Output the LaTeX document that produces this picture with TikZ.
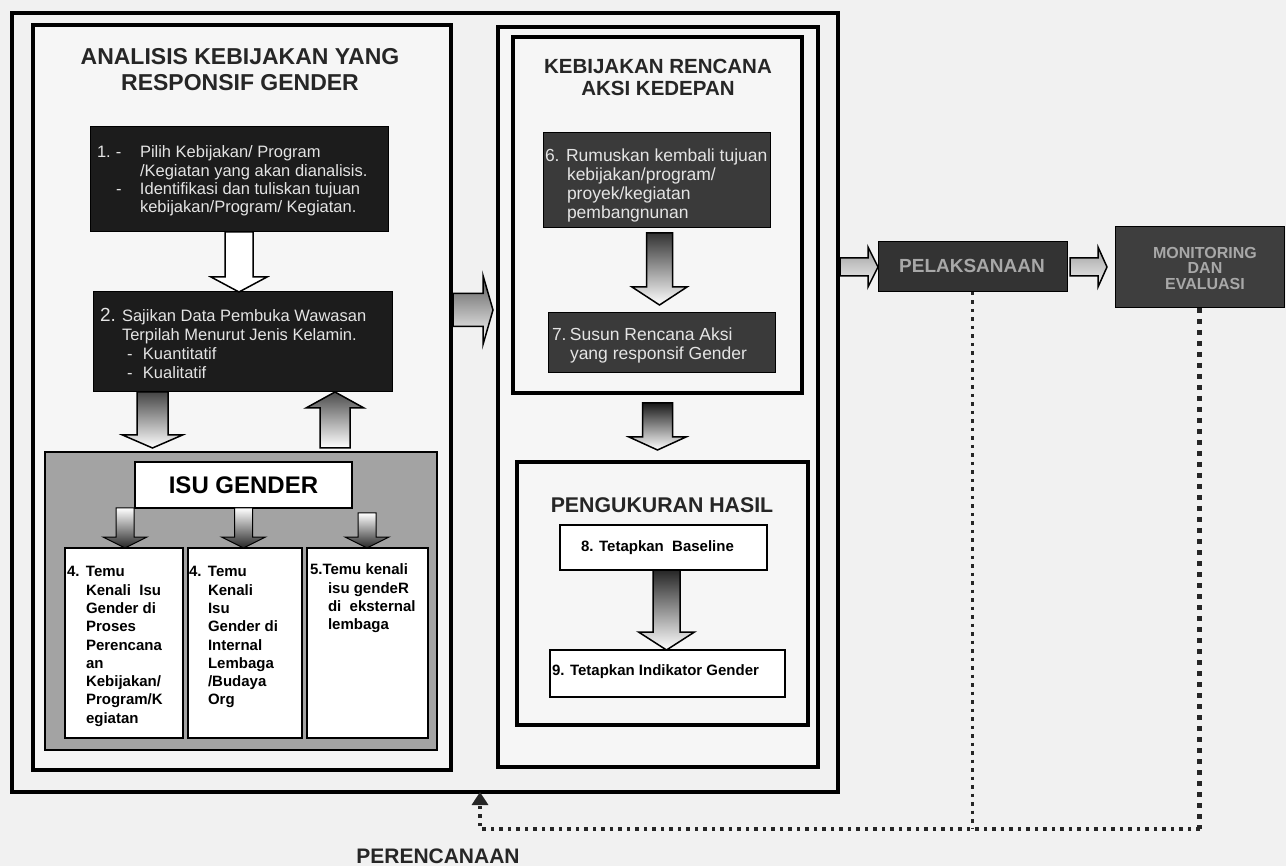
\documentclass[tikz,border=0pt]{standalone}
\usepackage{fontspec}
\setmainfont{Liberation Sans}
\usetikzlibrary{fit,calc,arrows.meta}

\definecolor{bg}{HTML}{F1F1F1}
\definecolor{panel}{HTML}{F6F6F6}
\definecolor{darkfill}{HTML}{1C1C1C}
\definecolor{midfill}{HTML}{3A3A3A}
\definecolor{isufill}{HTML}{A3A3A3}
\definecolor{boxtext}{HTML}{E4E4E4}
\definecolor{embtext}{HTML}{A8A8A8}

\newcommand\fs[2]{\fontsize{#1}{#2}\selectfont}
% block arrows: #1 style, #2 start, #3 end, #4 shaft half width, #5 head half width, #6 head length
\newcommand\blkDown[6]{\path[#1] let \p1=(#2), \p2=(#3) in (\x1-#4pt,\y1) -- (\x1+#4pt,\y1) -- (\x1+#4pt,\y2+#6pt) -- (\x1+#5pt,\y2+#6pt) -- (\x1,\y2) -- (\x1-#5pt,\y2+#6pt) -- (\x1-#4pt,\y2+#6pt) -- cycle;}
\newcommand\blkUp[6]{\path[#1] let \p1=(#2), \p2=(#3) in (\x1-#4pt,\y1) -- (\x1+#4pt,\y1) -- (\x1+#4pt,\y2-#6pt) -- (\x1+#5pt,\y2-#6pt) -- (\x1,\y2) -- (\x1-#5pt,\y2-#6pt) -- (\x1-#4pt,\y2-#6pt) -- cycle;}
\newcommand\blkRight[6]{\path[#1] let \p1=(#2), \p2=(#3) in (\x1,\y1+#4pt) -- (\x2-#6pt,\y1+#4pt) -- (\x2-#6pt,\y1+#5pt) -- (\x2,\y1) -- (\x2-#6pt,\y1-#5pt) -- (\x2-#6pt,\y1-#4pt) -- (\x1,\y1-#4pt) -- cycle;}

\begin{document}
\begin{tikzpicture}[x=1pt,y=-1pt,
  every node/.style={inner sep=0pt, outer sep=0pt},
  frm/.style={draw=black, line width=4pt},
  darkbox/.style={fill=darkfill, draw=black, line width=1pt},
  midbox/.style={fill=midfill, draw=black, line width=1pt},
  whitebox/.style={fill=white, draw=black, line width=2pt},
  title/.style={align=center, text=black!85, font={\fs{23}{26}\bfseries}},
  lighttext/.style={anchor=north west, text=boxtext},
  smallbold/.style={anchor=north west, text=black, font={\fs{15}{18.3}\bfseries}},
  emb/.style={text=embtext, font={\fs{19}{19}\bfseries}},
  arr/.style={draw=black, line width=1.5pt},
  dotline/.style={draw=black!85, line width=3.5pt, dash pattern=on 3.5pt off 5pt},
  dotthick/.style={draw=black!85, line width=5pt, dash pattern=on 5pt off 6pt}
]
\useasboundingbox (0,0) rectangle (1286,866);
\fill[bg] (0,0) rectangle (1286,866);

% frames and panels
\node[frm, fit={(12,13) (838,792)}] (fr) {};
\node[frm, fill=panel, fit={(33,25) (451,770)}] (lp) {};
\node[frm, fill=panel, fit={(498,27) (818,767)}] (mo) {};
\node[frm, fill=panel, fit={(513,37) (802,393)}] (mi) {};
\node[frm, fill=panel, fit={(517,462) (808,725)}] (pk) {};

% titles
\node[title] (tA) at (240,70) {ANALISIS KEBIJAKAN YANG\\RESPONSIF GENDER};
\node[title, font={\fs{20.5}{21.5}\bfseries}] (tB) at (658,77.5) {KEBIJAKAN RENCANA\\AKSI KEDEPAN};
\node[title, font={\fs{21.3}{22}\bfseries}] (tC) at (662,505) {PENGUKURAN HASIL};

% left column boxes
\node[darkbox, fit={(90,127) (388,232)}] (b1) {};
\node[lighttext, font={\fs{16.5}{18.3}}] (b1t) at (97,145) {\begin{tabular}{@{}p{19pt}@{}p{24pt}@{}l@{}}1.&-&Pilih Kebijakan/ Program\\&&/Kegiatan yang akan dianalisis.\\&-&Identifikasi dan tuliskan tujuan\\&&kebijakan/Program/ Kegiatan.\end{tabular}};

\node[darkbox, fit={(93,292) (392,392)}] (b2) {};
\node[lighttext, font={\fs{16.5}{19}}] (b2t) at (100,308) {\begin{tabular}{@{}p{22pt}@{}p{21pt}@{}l@{}}{\fs{19}{19}2.}&\multicolumn{2}{@{}l@{}}{Sajikan Data Pembuka Wawasan}\\&\multicolumn{2}{@{}l@{}}{Terpilah Menurut Jenis Kelamin.}\\&\hspace*{5pt}-&Kuantitatif\\&\hspace*{5pt}-&Kualitatif\end{tabular}};

\node[draw=black, line width=2pt, fill=isufill, fit={(45,452) (437,750)}] (gr) {};
\node[whitebox, fit={(135,462) (352,508)}] (isu) {};
\node[font={\fs{24}{24}\bfseries}] (isut) at (isu.center) {ISU GENDER};

\node[whitebox, fit={(65,548) (183,738)}] (bA) {};
\node[whitebox, fit={(188,548) (302,738)}] (bB) {};
\node[whitebox, fit={(307,548) (428,738)}] (bC) {};
\node[smallbold] (bAt) at (67,564) {\begin{tabular}{@{}p{19pt}@{}l@{}}4.&Temu\\&Kenali\ \ Isu\\&Gender di\\&Proses\\&Perencana\\&an\\&Kebijakan/\\&Program/K\\&egiatan\end{tabular}};
\node[smallbold] (bBt) at (189,564) {\begin{tabular}{@{}p{19pt}@{}l@{}}4.&Temu\\&Kenali\\&Isu\\&Gender di\\&Internal\\&Lembaga\\&/Budaya\\&Org\end{tabular}};
\node[smallbold] (bCt) at (310,562) {\begin{tabular}{@{}p{18pt}@{}l@{}}\multicolumn{2}{@{}l@{}}{5.Temu kenali}\\&isu gendeR\\&di\ \ eksternal\\&lembaga\end{tabular}};

% middle column boxes
\node[midbox, fit={(543,133) (770,228)}] (b6) {};
\node[lighttext, font={\fs{17.5}{19}}] (b6t) at (545,148) {\begin{tabular}{@{}p{22pt}@{}l@{}}\multicolumn{2}{@{}l@{}}{6. Rumuskan kembali tujuan}\\&kebijakan/program/\\&proyek/kegiatan\\&pembangnunan\end{tabular}};

\node[midbox, fit={(548,313) (775,373)}] (b7) {};
\node[lighttext, font={\fs{17.5}{18.5}}] (b7t) at (552,328) {\begin{tabular}{@{}p{18pt}@{}l@{}}7.&Susun Rencana Aksi\\&yang responsif Gender\end{tabular}};

\node[whitebox, fit={(560,525) (767,570)}] (b8) {};
\node[font={\fs{15}{15}\bfseries}] (b8t) at ($(b8.center)+(-6,0)$) {8. Tetapkan\ \ Baseline};
\node[whitebox, fit={(550,650) (785,697)}] (b9) {};
\node[anchor=west, font={\fs{15}{15}\bfseries}] (b9t) at (552,672) {9. Tetapkan Indikator Gender};

% right boxes
\node[fill=darkfill!90!white, draw=black, line width=1pt, fit={(878,242) (1067,292)}] (pel) {};
\node[emb] (pelt) at (972,266) {PELAKSANAAN};
\node[fill=darkfill!85!white, draw=black, line width=1pt, fit={(1115,227) (1284,308)}] (mon) {};
\node[emb, align=center, font={\fs{16}{15.5}\bfseries}] (mont) at (1205,268) {MONITORING\\DAN\\EVALUASI};

% block arrows
\blkDown{arr, top color=white, middle color=gray!65, bottom color=white}{b1.south}{b2.north}{14}{28}{15}
\blkDown{arr, top color=gray!55!black, bottom color=white}{$(b2.south)+(-90,0)$}{$(gr.north)+(0,-4)$}{15.5}{30}{13}
\blkUp{arr, top color=gray!60!black, bottom color=white}{$(gr.north)+(94,-4)$}{b2.south}{15}{29}{16}
\blkDown{arr, line width=1pt, top color=white, bottom color=black!85}{$(isu.south)+(-118.5,0)$}{bA.north}{9}{22}{11}
\blkDown{arr, line width=1pt, top color=white, bottom color=black!85}{$(isu.south)+(0,0)$}{bB.north}{9}{22}{11}
\blkDown{arr, line width=1pt, top color=white, bottom color=black!85}{$(isu.south)+(123.5,5)$}{bC.north}{9}{22}{11}
\blkRight{arr, top color=gray!70!black, bottom color=white}{$(lp.east)+(2,-87.5)$}{$(mo.west)+(-5,0)$}{16.5}{34.5}{10}
\blkDown{arr, top color=black!80, bottom color=white}{$(b6.south)+(3,5)$}{$(b7.north)+(0,-8)$}{13}{27.5}{18}
\blkDown{arr, top color=black!90, bottom color=white}{$(mi.south)+(0,10)$}{$(pk.north)+(0,-12)$}{15}{28.5}{13}
\blkDown{arr, top color=black!85, bottom color=white}{$(b8.south)+(3,0)$}{b9.north}{13.5}{28}{18}
\blkRight{arr, top color=gray!75, bottom color=gray!10}{$(fr.east |- pel.west)+(2,0)$}{pel.west}{9}{20}{10}
\blkRight{arr, top color=gray!75, bottom color=gray!10}{$(pel.east)+(3,0)$}{$(mon.west)+(-8,0)$}{9}{20}{9}

% dotted feedback
\coordinate (turn) at (480,829);
\draw[dotline] (pel.south) -- (pel.south |- turn);
\draw[dotthick] (mon.south) -- (mon.south |- turn);
\draw[dotline, -{Triangle[length=13pt,width=16pt]}] (mon.south |- turn) -- (turn) -- (fr.south -| turn);

\node[font={\fs{21}{21}\bfseries}, text=black!85] (plan) at (438,856) {PERENCANAAN};
\end{tikzpicture}
\end{document}
